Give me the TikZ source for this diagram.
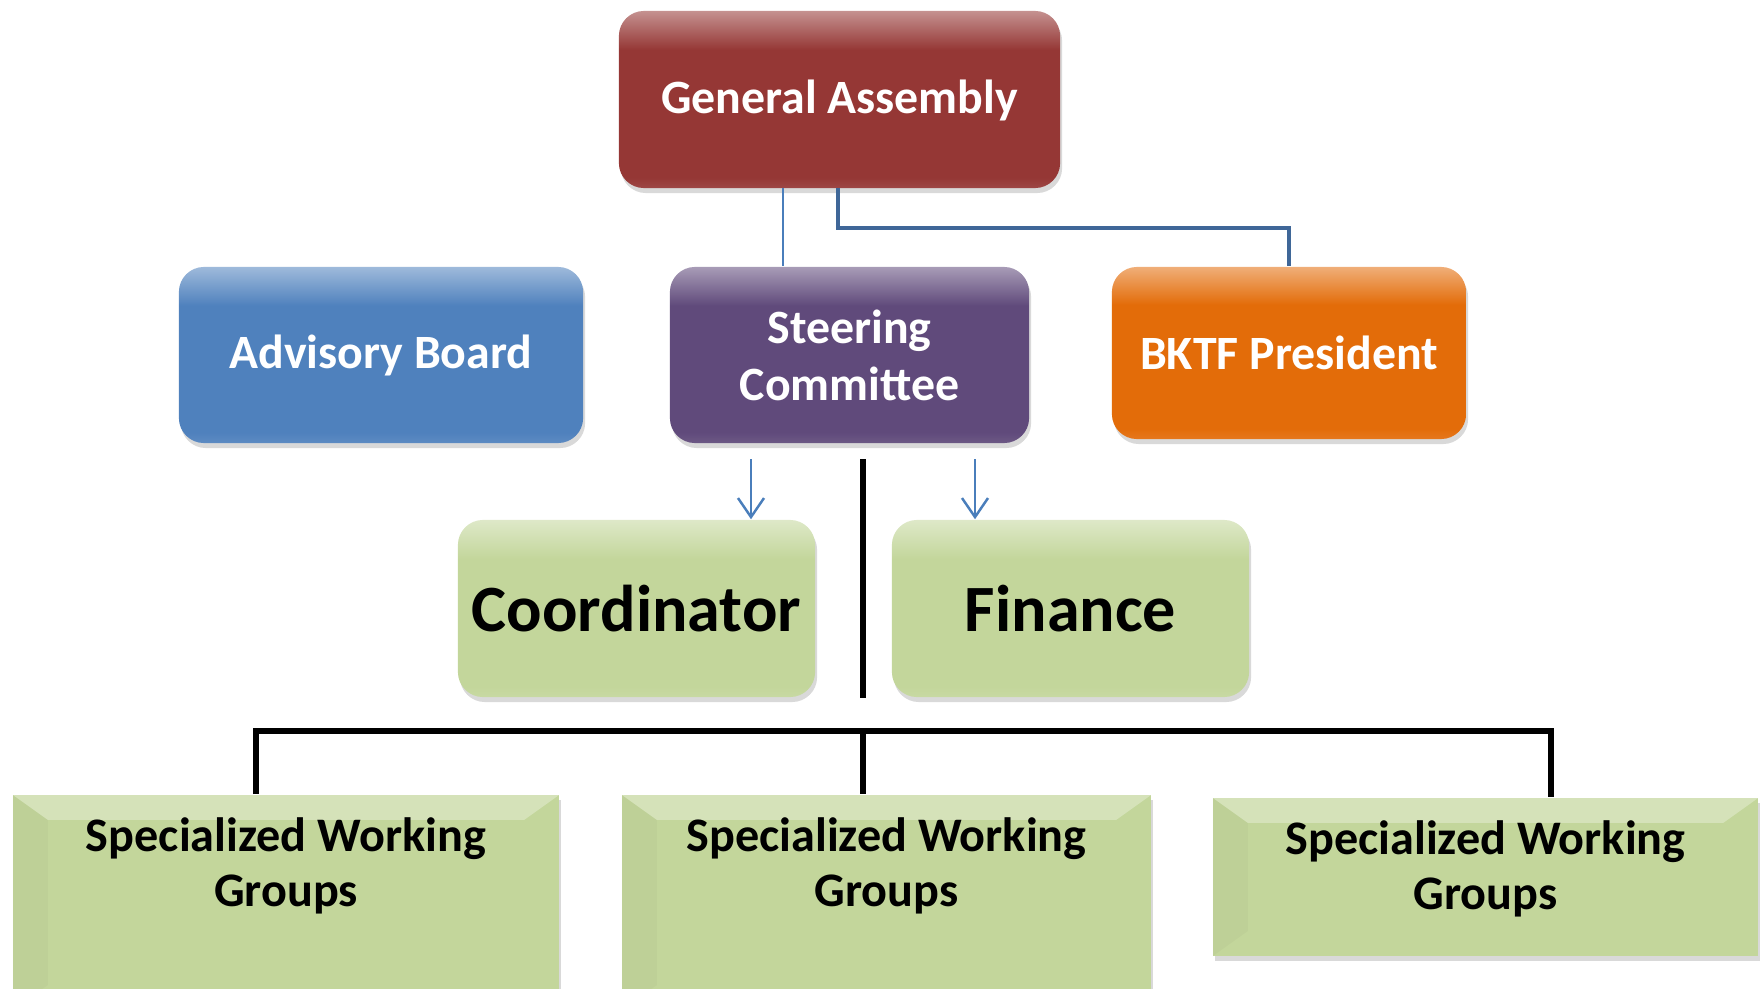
\documentclass[tikz,border=0pt]{standalone}
\usepackage{fontspec}
\setmainfont{Carlito}
\usetikzlibrary{arrows.meta,shadows,calc}
\definecolor{gared}{HTML}{953735}
\definecolor{abblue}{HTML}{4F81BD}
\definecolor{scpurple}{HTML}{604A7B}
\definecolor{bkorange}{HTML}{E36C09}
\definecolor{olive}{HTML}{C3D69B}
\definecolor{linkblue}{HTML}{4A7EBB}
\definecolor{darkblue}{HTML}{3F6798}
% glossy band on top, flat below
\newcommand\glossshade[1]{%
 \pgfdeclareverticalshading{gloss#1}{100bp}{color(0bp)=(#1); color(25bp)=(#1!92!white);
  color(28bp)=(#1); color(64bp)=(#1); color(75bp)=(#1!55!white); color(100bp)=(#1!55!white)}}
\glossshade{gared}
\glossshade{abblue}
\glossshade{scpurple}
\glossshade{bkorange}
\glossshade{olive}
\begin{document}
\begin{tikzpicture}[x=0.01cm,y=-0.01cm,line cap=butt,line join=miter,>={Straight Barb[length=0.19cm,width=0.26cm]}]
 \tikzset{
 orgbox/.style={rounded corners=0.25cm,inner sep=0pt,align=center,text=white,
  font=\fontsize{13.6}{16.2}\selectfont\bfseries,
  drop shadow={opacity=0.3,shadow xshift=0.02cm,shadow yshift=-0.05cm}},
 glossy/.style={shading=gloss#1},
 greenbox/.style={orgbox,glossy=olive,text=black,font=\fontsize{18.8}{22}\selectfont\bfseries},
 swgbox/.style={inner sep=0pt,fill=olive,
  drop shadow={opacity=0.3,shadow xshift=0.02cm,shadow yshift=-0.05cm},
  path picture={
   \coordinate (nw) at (path picture bounding box.north west);
   \coordinate (ne) at (path picture bounding box.north east);
   \coordinate (sw) at (path picture bounding box.south west);
   \fill[white,opacity=0.3] (nw) -- (ne) -- ($(ne)+(-0.35cm,-0.25cm)$) -- ($(nw)+(0.35cm,-0.25cm)$) -- cycle;
   \fill[black,opacity=0.025] (nw) -- ($(nw)+(0.35cm,-0.25cm)$) -- ($(sw)+(0.35cm,0.25cm)$) -- (sw) -- cycle;}},
 swgtext/.style={align=center,font=\fontsize{13.7}{15.6}\selectfont\bfseries},
 thinblue/.style={draw=linkblue,line width=0.7pt},
 thickblue/.style={draw=darkblue,line width=1.3pt},
 blk/.style={draw=black,line width=1.85pt}
 }
 \useasboundingbox (0,0) rectangle (1761,988);
 % top level
 \node[orgbox,glossy=gared,minimum width=4.41cm,minimum height=1.77cm,text depth=0.06cm] (ga) at (839.5,99.5) {General Assembly};
 % second row
 \node[orgbox,glossy=abblue,minimum width=4.04cm,minimum height=1.76cm] (ab) at (381,355) {Advisory Board};
 \node[orgbox,glossy=scpurple,minimum width=3.59cm,minimum height=1.76cm] (sc) at (849.5,355) {Steering\\Committee};
 \node[orgbox,glossy=bkorange,minimum width=3.54cm,minimum height=1.72cm] (bk) at (1289,353) {BKTF President};
 % third row
 \node[greenbox,minimum width=3.57cm,minimum height=1.77cm] (co) at (636.5,608.5) {Coordinator};
 \node[greenbox,minimum width=3.57cm,minimum height=1.77cm] (fi) at (1070.5,608.5) {Finance};
 % working groups
 \node[swgbox,minimum width=5.46cm,minimum height=2.15cm] (sw1) at (286,902.5) {};
 \node[swgbox,minimum width=5.29cm,minimum height=2.15cm] (sw2) at (886.5,902.5) {};
 \node[swgbox,minimum width=5.45cm,minimum height=1.58cm] (sw3) at (1485.5,877) {};
 \node[swgtext] (sw1t) at (286,866) {Specialized Working\\Groups};
 \node[swgtext] (sw2t) at (886.5,866) {Specialized Working\\Groups};
 \node[swgtext] (sw3t) at (1485.5,869) {Specialized Working\\Groups};
 % links
 \coordinate (gal) at (783,188);
 \coordinate (gar) at (838,188);
 \draw[thinblue] (gal) -- (gal |- sc.north);
 \draw[thickblue] (gar) |- (bk.north |- 0,228) -- (bk.north);
 \coordinate (ar1) at (751,459);
 \coordinate (ar2) at (975,459);
 \draw[thinblue,->] (ar1) -- (ar1 |- co.north);
 \draw[thinblue,->] (ar2) -- (ar2 |- fi.north);
 \coordinate (mid) at (863,459);
 \coordinate (bar) at (863,731);
 \draw[blk] (mid) -- (mid |- co.south);
 \draw[blk] (sw1.north -| 256,0) |- (bar) -| (sw3.north -| 1551,0);
 \draw[blk] (bar) -- (bar |- sw2.north);
\end{tikzpicture}
\end{document}
